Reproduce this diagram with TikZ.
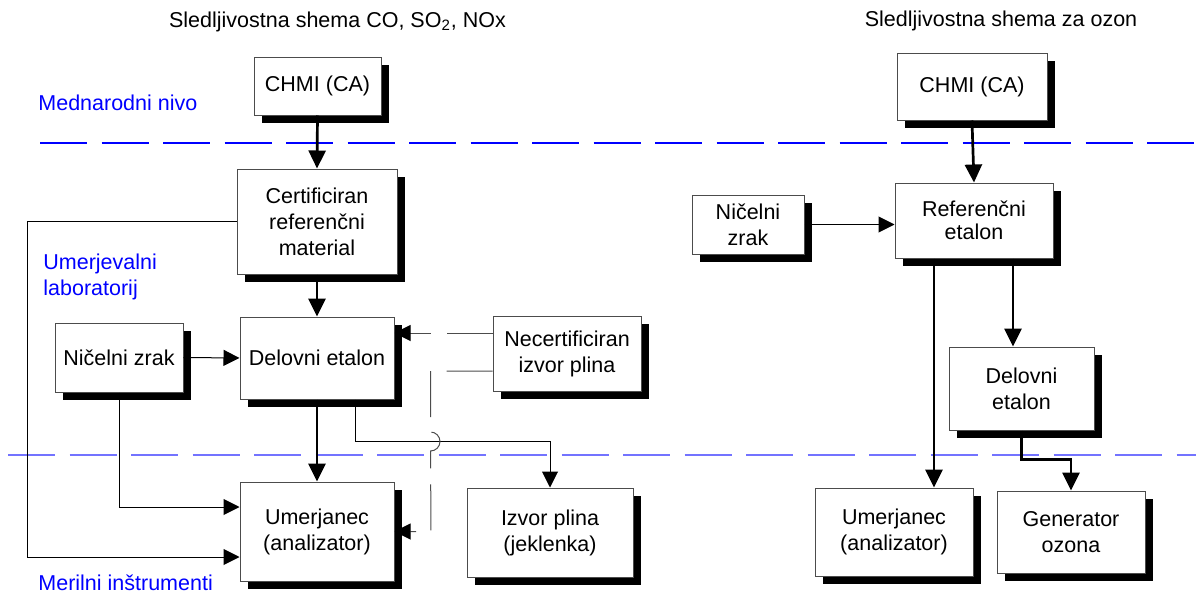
\documentclass[tikz,border=0pt]{standalone}
\usepackage{fontspec}
\setmainfont{Liberation Sans}
\usetikzlibrary{arrows.meta,shadows}
\tikzset{
	box/.style={draw=black!70, line width=0.5pt, fill=white, align=center, inner sep=0pt,
		general shadow={fill=black, shadow xshift=4pt, shadow yshift=-4pt},
		font=\fontsize{10.75}{13}\selectfont},
	lbl/.style={inner sep=0pt, font=\fontsize{10.75}{13}\selectfont},
	thinarrow/.style={line width=0.5pt, -{Triangle[length=8pt,width=8pt]}},
	thickarrow/.style={line width=1.35pt, -{Triangle[length=9pt,width=8.5pt]}},
	necline/.style={draw=black!70, line width=0.5pt, dash pattern=on 23pt off 8pt,
		-{Triangle[length=8pt,width=8pt,color=black]}},
	levelA/.style={draw={rgb,255:red,0;green,0;blue,255}, line width=0.7pt, dash pattern=on 23.5pt off 7.25pt},
	levelB/.style={draw={rgb,255:red,115;green,115;blue,255}, line width=1pt, dash pattern=on 23.5pt off 7.25pt}
}
\begin{document}
\begin{tikzpicture}[x=0.5pt,y=-0.5pt]
		\useasboundingbox (0,0) rectangle (1196,594);
		\draw[levelA] (40,143)--(1196,143);
		\draw[levelB] (8,455)--(1196,455);
		\node[lbl] (titL) at (337.5,22) {Sledljivostna shema CO, SO\textsubscript{2}, NOx};
		\node[lbl] (titR) at (1001,21) {Sledljivostna shema za ozon};
		\node[lbl, blue, anchor=west] (medn) at (38,103) {Mednarodni nivo};
		\node[lbl, blue, anchor=west, align=left] (umlab) at (43,276.5) {Umerjevalni\\laboratorij};
		\node[lbl, blue, anchor=west] (meril) at (38,583) {Merilni inštrumenti};
		\node[box, minimum width=63.5pt, minimum height=29pt] (chmiL) at (317.5,86) {CHMI (CA)};
		\node[box, minimum width=80pt, minimum height=52.5pt] (certL) at (317,221.5) {Certificiran\\referenčni\\material};
		\node[box, minimum width=77pt, minimum height=41pt] (delL) at (317,358) {Delovni etalon};
		\node[box, minimum width=64pt, minimum height=34.5pt] (nicL) at (119,357.5) {Ničelni zrak};
		\node[box, minimum width=74pt, minimum height=37.5pt] (necert) at (567,353.5) {Necertificiran\\izvor plina};
		\node[box, minimum width=77pt, minimum height=49.5pt] (umL) at (317,531.5) {Umerjanec\\(analizator)};
		\node[box, minimum width=83pt, minimum height=44.5pt] (izvor) at (550,532.5) {Izvor plina\\(jeklenka)};
		\node[box, minimum width=75pt, minimum height=33.5pt] (chmiR) at (972,86.5) {CHMI (CA)};
		\node[box, minimum width=79pt, minimum height=37.5pt, font=\fontsize{10.75}{11.5}\selectfont] (refR) at (974,220.5) {Referenčni\\etalon};
		\node[box, minimum width=56pt, minimum height=29.5pt] (nicR) at (748,224.5) {Ničelni\\zrak};
		\node[box, minimum width=72.5pt, minimum height=41.5pt] (delR) at (1021.5,388.5) {Delovni\\etalon};
		\node[box, minimum width=79pt, minimum height=44pt] (umR) at (894,532) {Umerjanec\\(analizator)};
		\node[box, minimum width=74pt, minimum height=41pt] (gen) at (1071,532) {Generator\\ozona};
		\draw[thickarrow] (chmiL.south)--(certL.north);
		\draw[thickarrow] (certL.south)--(delL.north);
		\draw[thickarrow] (delL.south)--(umL.north);
		\draw[thinarrow] (nicL.east)--(delL.west);
		\draw[thinarrow] (nicL.south) |- ([yshift=12.25pt]umL.west);
		\draw[thinarrow] (certL.west) -- ++(-209,0) |- ([yshift=-12.75pt]umL.west);
		\draw[thinarrow] ([xshift=19pt]delL.south) -- ++(0,42) -| (izvor.north);
		\coordinate (necA) at ([yshift=10.25pt]necert.west);
		\coordinate (necB) at ([yshift=-8.75pt]necert.west);
		\draw[necline] (necA)--(necA -| delL.east);
		\draw[necline] (necB) -- ++(-62,0) -- ++(0,61)
			arc[start angle=90, end angle=-90, radius=4.75pt] -- (umL.east -| 431,0) -- (umL.east);
		\draw[thickarrow] (chmiR.south)--(refR.north);
		\draw[thinarrow] (nicR.east)--(nicR.east -| refR.west);
		\draw[thickarrow] ([xshift=-20pt]refR.south)--([xshift=20pt]umR.north);
		\draw[thickarrow] ([xshift=19.5pt]refR.south)--([xshift=-4.25pt]delR.north);
		\draw[thickarrow] (delR.south) -- ++(0,29) -| (gen.north);
	\end{tikzpicture}
\end{document}
